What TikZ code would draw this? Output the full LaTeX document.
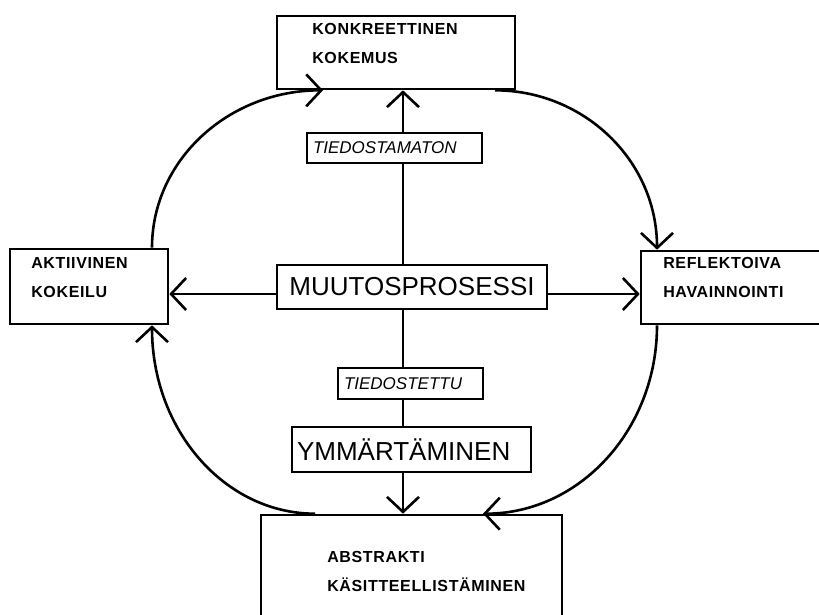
\documentclass[tikz,border=0pt]{standalone}
\usepackage{fontspec}
\setmainfont{Liberation Sans}
\newfontfamily\spacedfont[LetterSpace=4]{Liberation Sans}
\usetikzlibrary{arrows.meta}

\begin{document}
\begin{tikzpicture}[x=1pt, y=-1pt, >={Straight Barb[length=15pt, width=32pt]}, line width=2.6pt,
    phase/.style={draw, rectangle, inner sep=0pt},
    phase text/.style={anchor=base west, align=left, inner sep=0pt, font=\spacedfont\bfseries\fontsize{16}{28.5}\selectfont},
    mode/.style={draw, fill=white, rectangle, align=left, inner ysep=0pt, inner xsep=6pt, font=\itshape\fontsize{17}{20}\selectfont},
    core/.style={draw, fill=white, rectangle, inner ysep=0pt, font=\fontsize{26}{30}\selectfont}]

    \useasboundingbox (0,0) rectangle (819,614);
    \clip (0,0) rectangle (819,614);

    % the four phases round the cycle
    \node[phase, minimum width=238pt, minimum height=73pt] (kokemus) at (396,52.5) {};
    \node[phase, minimum width=158pt, minimum height=75pt] (kokeilu) at (89,286.5) {};
    \node[phase, minimum width=188pt, minimum height=73pt] (havainnointi) at (735,287.5) {};
    \node[phase, minimum width=301pt, minimum height=115pt] (kasitteellistaminen) at (411.5,572.5) {};

    % base = last line
    \node[phase text] (kokemus text) at (311,63) {KONKREETTINEN\\KOKEMUS};
    \node[phase text] (kokeilu text) at (30,297) {AKTIIVINEN\\KOKEILU};
    \node[phase text] (havainnointi text) at (662,297) {REFLEKTOIVA\\HAVAINNOINTI};
    \node[phase text] (kasitteellistaminen text) at (326,591) {ABSTRAKTI\\KÄSITTEELLISTÄMINEN};

    % centre
    \node[core, inner xsep=0pt, minimum width=270pt, minimum height=44pt] (muutos) at (412,287) {MUUTOSPROSESSI};
    \coordinate (spine) at (403,287);
    \coordinate (axis) at (412,294);

    \draw[->] (spine |- muutos.north) -- (spine |- kokemus.south);
    \draw[->] (spine |- muutos.south) -- (spine |- kasitteellistaminen.north);
    \draw[->] (axis -| muutos.west) -- (axis -| kokeilu.east);
    \draw[->] (axis -| muutos.east) -- (axis -| havainnointi.west);

    % the cycle
    \draw[->] ([xshift=63pt]kokeilu.north) .. controls +(0,-88) and +(-94,0) .. ([xshift=-73pt]kokemus.south);
    \draw[->] ([xshift=99pt]kokemus.south) .. controls +(89,0) and +(0,-89) .. ([xshift=-78pt]havainnointi.north);
    \draw[->] ([xshift=-78pt]havainnointi.south) .. controls +(0,105) and +(96,0) .. ([xshift=71.5pt]kasitteellistaminen.north);
    \draw[->] ([xshift=-96.5pt]kasitteellistaminen.north) .. controls +(-90,0) and +(0,105) .. ([xshift=63pt]kokeilu.south);

    \node[mode, text width=163pt, minimum height=30pt] (tiedostamaton) at (394.5,148) {TIEDOSTAMATON};
    \node[mode, text width=133pt, minimum height=31pt] (tiedostettu) at (410.5,383.5) {TIEDOSTETTU};
    \node[core, text width=229pt, align=left, inner xsep=5pt, minimum height=45pt] (ymmartaminen) at (411.5,449.5) {YMMÄRTÄMINEN};
\end{tikzpicture}
\end{document}
